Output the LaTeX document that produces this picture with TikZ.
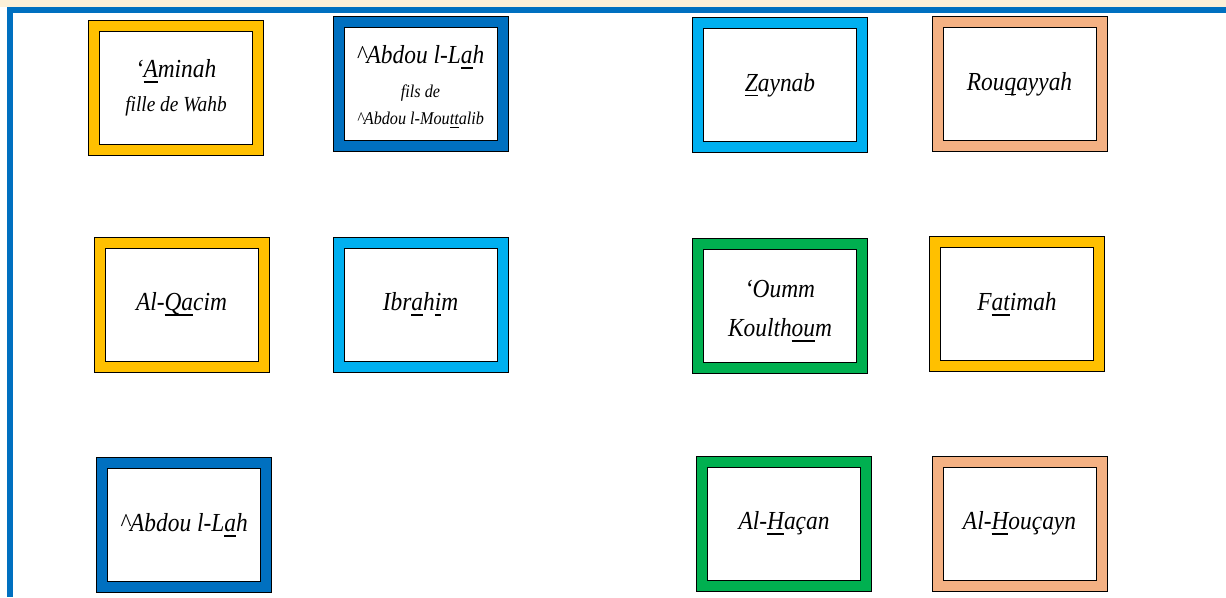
\documentclass[tikz,border=0pt]{standalone}
\usepackage{fontspec}
\setmainfont{Liberation Serif}[FakeStretch=0.9]
\definecolor{famyellow}{HTML}{FFC000}
\definecolor{famdarkblue}{HTML}{0070C0}
\definecolor{famlightblue}{HTML}{00B0F0}
\definecolor{fampeach}{HTML}{F4B183}
\definecolor{famgreen}{HTML}{00B050}
\definecolor{framebeige}{HTML}{FCF0D8}
\newcommand\uln[1]{\leavevmode\setbox0=\hbox{#1}\rlap{\raisebox{-0.2em}{\rule{\wd0}{0.07em}}}\box0}
\newcommand\namefont{\fontsize{26}{30}\selectfont\itshape}
\newcommand\smallname{\fontsize{18}{21}\selectfont}
\tikzset{
  fambox/.style={rectangle, draw=black, line width=0.9pt, fill=#1,
    minimum width=175pt, minimum height=135pt, inner sep=0pt,
    align=center, font=\namefont,
    path picture={\draw[black, fill=white, line width=0.9pt]
      ([shift={(11pt,11pt)}]path picture bounding box.south west) rectangle
      ([shift={(-11pt,-11pt)}]path picture bounding box.north east);}}
}
\begin{document}
\begin{tikzpicture}[x=1pt,y=-1pt]
\useasboundingbox (0,0) rectangle (1226,597);
\fill[white] (0,0) rectangle (1226,597);
\fill[framebeige] (0,0) rectangle (1226,7);
\fill[famdarkblue] (7,7) rectangle (1226,13);
\fill[famdarkblue] (7,7) rectangle (13,597);

\node[fambox=famyellow] (aminah) at (176,88)
  {‘\uln{A}minah\\[4pt]{\fontsize{21.5}{24}\selectfont fille de Wahb}};
\node[fambox=famdarkblue] (abdoutop) at (420.5,84)
  {\rule{0pt}{24pt}\textasciicircum Abdou l-L\uln{a}h\\[4pt]{\smallname fils de}\\[-3pt]{\smallname\textasciicircum Abdou l-Mou\uln{tt}alib}};
\node[fambox=famlightblue] (zaynab) at (780,85) {\uln{Z}aynab};
\node[fambox=fampeach] (rouqayyah) at (1019.5,84) {Rou\uln{q}ayyah};

\node[fambox=famyellow] (qacim) at (181.5,304.5) {Al-\uln{Qa}cim};
\node[fambox=famlightblue] (ibrahim) at (420.5,304.5) {Ibr\uln{a}h\uln{i}m};
\node[fambox=famgreen] (oumm) at (780,305.5) {\rule{0pt}{29pt}‘Oumm\\[9pt]Koulth\uln{ou}m};
\node[fambox=famyellow] (fatimah) at (1017,304) {F\uln{at}imah};

\node[fambox=famdarkblue] (abdoubottom) at (184,525) {\textasciicircum Abdou l-L\uln{a}h};
\node[fambox=famgreen] (hacan) at (784,523.5) {Al-\uln{H}açan};
\node[fambox=fampeach] (houcayn) at (1019.5,523.5) {Al-\uln{H}ouçayn};
\end{tikzpicture}
\end{document}
